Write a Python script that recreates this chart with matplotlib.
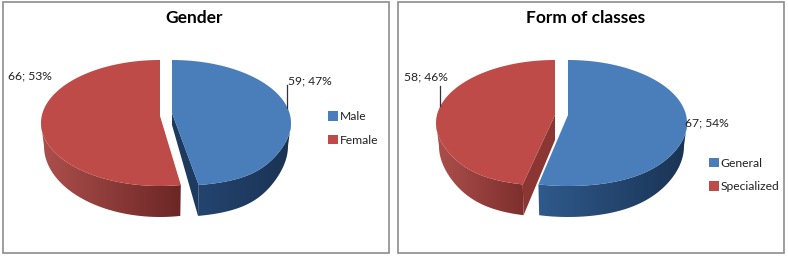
import numpy as np
import matplotlib
matplotlib.use("Agg")
import matplotlib.pyplot as plt
from matplotlib.patches import Patch, Polygon, Rectangle
from matplotlib.colors import LinearSegmentedColormap

plt.rcParams['font.family'] = ['Lato', 'DejaVu Sans']

gender_labels = ['Male', 'Female']
gender_values = [59, 66]
classes_labels = ['General', 'Specialized']
classes_values = [67, 58]

BLUE = '#4a7ebb'
RED = '#be4b48'


def rim(cx, cy, a, b, t, warp):
    # t in degrees, clockwise from the top of the ellipse, front stretched for perspective
    t = np.radians(t)
    front = np.clip(-np.cos(t), 0, 1) ** 4
    return cx + a * np.sin(t) * (1 + warp * front), cy - b * np.cos(t)


def draw_slice(ax, apex, start, end, color, side, cut_color, warp, drop):
    cx, cy = apex[0], 123
    # outer side wall, only where it faces the viewer, shaded left to right over its own width
    tt = np.linspace(max(start, 90), min(end, 270), 120)
    x1, y1 = rim(cx, cy, 119, 63, tt, warp)
    x2, y2 = rim(cx, cy + 23, 116, 71, tt, warp)
    wall = Polygon(np.r_[np.c_[x1, y1], np.c_[x2, y2][::-1]], fc='none', ec='none', transform=ax.transData)
    ax.add_patch(wall)
    cmap = LinearSegmentedColormap.from_list('side', side)
    im = ax.imshow(np.linspace(0, 1, 256)[None, :], cmap=cmap, aspect='auto', zorder=2,
                   extent=(min(x1.min(), x2.min()), max(x1.max(), x2.max()), 230, 100))
    im.set_clip_path(wall)
    # cut wall shows only on the side turned towards the viewer
    ang = None
    if end < 180:
        ang = end
    elif start > 180:
        ang = start
    if ang is not None:
        xa, ya = rim(cx, cy, 119, 63, ang, warp)
        xb, yb = rim(cx, cy + 23, 116, 71, ang, warp)
        ax.add_patch(Polygon([apex, (xa, ya), (xb, yb), (apex[0], apex[1] + drop)],
                             fc=cut_color, ec='none', zorder=2))
    tt = np.linspace(start, end, 160)
    x, y = rim(cx, cy, 119, 63, tt, warp)
    ax.add_patch(Polygon(np.r_[[apex], np.c_[x, y]], fc=color, ec='none', zorder=3))


def draw_panel(rect, title, labels, values, apex_a, apex_b, sides, warps, drop, title_x, label_pos, leader, legend_at):
    x0, x1 = rect
    ax = fig.add_axes([x0 / W, 0, (x1 - x0) / W, 1])
    ax.axis('off')
    ax.add_patch(Rectangle((x0 + 1, 2), x1 - x0 - 2, 251, fc='white', ec='#8c8c8c', lw=1.2))
    ax.text(title_x, 18, title, ha='center', va='center', fontsize=12.5, fontweight='bold', color='black')

    total = sum(values)
    split = 360 * values[0] / total
    draw_slice(ax, apex_a, 0, split, BLUE, sides[0], '#1d3a5f', warps[0], drop)
    draw_slice(ax, apex_b, split, 360, RED, sides[1], '#8c3634', warps[1], drop)

    for v, pos in zip(values, label_pos):
        ax.text(pos[0], pos[1], f"{v}; {round(100 * v / total)}%", ha='center', va='center',
                fontsize=8.7, color='#222222', zorder=5)
    ax.plot([leader[0], leader[0]], [leader[1], leader[2]], color='#333333', lw=0.9, zorder=5)

    handles = [Patch(fc=BLUE, label=labels[0]), Patch(fc=RED, label=labels[1])]
    ax.set_xlim(x0, x1)
    ax.set_ylim(H, 0)
    ax.legend(handles=handles, loc='center left', bbox_to_anchor=legend_at, bbox_transform=ax.transData,
              frameon=False, fontsize=8.7, handlelength=0.85, handleheight=0.85, handletextpad=0.1,
              labelspacing=1.05, borderpad=0, borderaxespad=0, labelcolor='#222222')


W, H = 788, 257
fig = plt.figure(figsize=(W / 100, H / 100), dpi=100, facecolor='white')

draw_panel((2, 390), 'Gender', gender_labels, gender_values, (172, 113), (160, 116),
           (['#24446f', '#1a3354'], ['#ad4f4c', '#6b2725']), (0.3, 0.0), 12, 194.5,
           [(310, 81), (30, 76)], (287, 85, 108), (328, 128.5))
draw_panel((397, 785), 'Form of classes', classes_labels, classes_values, (568, 115), (555, 115),
           (['#2f5a8c', '#1a3354'], ['#ad4f4c', '#7d2f2d']), (0.12, 0.23), 25, 585.5,
           [(707, 123), (426, 77)], (440, 86, 106), (709, 175))

fig.savefig('out.png', dpi=100)
